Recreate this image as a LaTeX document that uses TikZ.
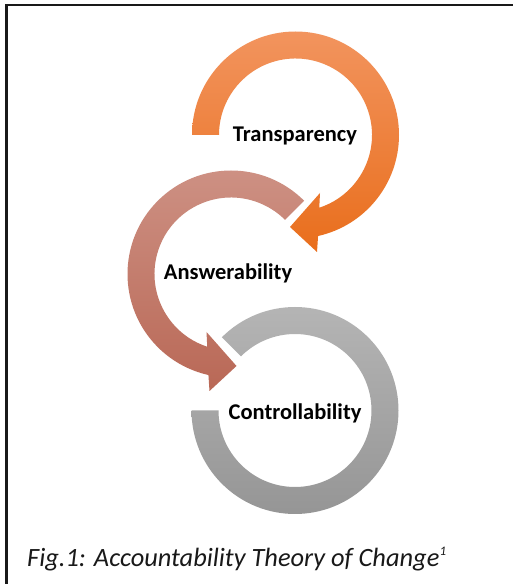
\documentclass[tikz,border=0pt]{standalone}
\usepackage{fontspec}
\setmainfont{Carlito}
\newcommand{\smallsup}[1]{\raisebox{0.4em}{\fontsize{13}{13}\selectfont #1}}
\begin{document}
\begin{tikzpicture}[x=1pt,y=1pt,
  ringlabel/.style={font=\bfseries\fontsize{22.5}{26}\selectfont, text=black, inner sep=0pt},
  captiontext/.style={font=\itshape\fontsize{26.4}{30}\selectfont, text=black!90, inner sep=0pt, anchor=west},
  frameline/.style={line width=2.5pt, black!90}]
\useasboundingbox (0,0) rectangle (513,584);
\fill[white] (0,0) rectangle (513,584);

% frame (top and left edges)
\draw[frameline] (6.5,0) -- (6.5,579) -- (513,579);

% ring centres
\coordinate (ct) at (295.5,449);
\coordinate (ca) at (231,310);
\coordinate (cc) at (295,173.5);

% Transparency: clockwise arrow from the left side round to the bottom
\begin{scope}[shift={(ct)}]
  \shade[top color={rgb,255:red,242;green,148;blue,94}, bottom color={rgb,255:red,233;green,110;blue,28}]
    (180:103.5) arc[start angle=180, end angle=-77.4, radius=103.5]
    -- (21.5,-117) -- (-5.5,-92) -- (24.5,-58)
    -- (-71.9:76.5) arc[start angle=-71.9, end angle=180, radius=76.5] -- cycle;
\end{scope}

% Answerability: anticlockwise arrow from upper right round to the bottom
\begin{scope}[shift={(ca)}]
  \shade[top color={rgb,255:red,206;green,146;blue,133}, bottom color={rgb,255:red,185;green,104;blue,86}]
    (45:103.5) arc[start angle=45, end angle=257.4, radius=103.5]
    -- (-21.5,-117) -- (5.5,-92) -- (-24.5,-58)
    -- (251.9:76.5) arc[start angle=251.9, end angle=45, radius=76.5] -- cycle;
\end{scope}

% Controllability: open ring without a head
\begin{scope}[shift={(cc)}]
  \shade[top color={rgb,255:red,182;green,182;blue,182}, bottom color={rgb,255:red,148;green,148;blue,148}]
    (135:103.5) arc[start angle=135, end angle=-180, radius=103.5]
    -- (180:76.5) arc[start angle=-180, end angle=135, radius=76.5] -- cycle;
\end{scope}

\node[ringlabel] (transparency) at (295,448) {Transparency};
\node[ringlabel] (answerability) at (228,311) {Answerability};
\node[ringlabel] (controllability) at (295,171) {Controllability};

\node[captiontext] (caption) at (27,25) {Fig.1: Accountability Theory of Change\smallsup{1}};
\end{tikzpicture}
\end{document}
